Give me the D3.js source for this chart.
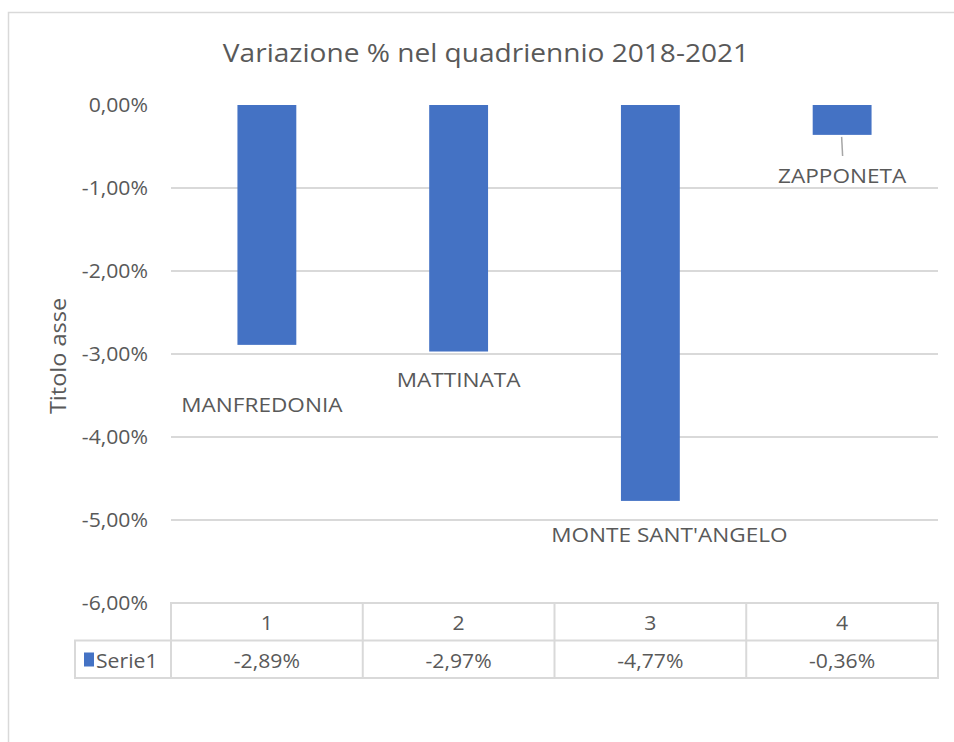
<!DOCTYPE html>
<html>
<head>
<meta charset="utf-8">
<script src="https://cdn.jsdelivr.net/npm/d3@7"></script>
<style>
  body { margin: 0; background: #fff; }
  text { font-family: "Open Sans", sans-serif; fill: #595959; }
</style>
</head>
<body>
<div id="chart"></div>
<script>
'use strict';
// data
const categories = ["1", "2", "3", "4"];
const values = [-2.89, -2.97, -4.77, -0.36];
const comuni = ["MANFREDONIA", "MATTINATA", "MONTE SANT'ANGELO", "ZAPPONETA"];
const yTicks = [0, -1, -2, -3, -4, -5, -6];
const seriesName = "Serie1";
const chartTitle = "Variazione % nel quadriennio 2018-2021";
const axisTitle = "Titolo asse";

// label placement (x offset in px, y in axis units)
const labelDx = [-5, 0, 19, 0];
const labelY = [-3.70, -3.40, -5.26, -0.94];

const W = 954, H = 742;
const plot = { left: 171, right: 938, top: 105, bottom: 603 };
const grey = "#d9d9d9";
const fmt = function(v) {
    return d3.format(".2f")(v).replace("−", "-").replace(".", ",") + "%";
};
// the original text is a bit wider than Open Sans, stretch it horizontally
function place(px, py, sx) {
    return "translate(" + px + "," + py + ") scale(" + sx + ",1)";
}

const svg = d3.select("#chart").append("svg")
    .attr("width", W)
    .attr("height", H);

// chart frame
svg.append("path")
    .attr("d", "M8.5," + H + "V12.5H" + W)
    .attr("fill", "none")
    .attr("stroke", grey)
    .attr("stroke-width", 1.5);

const x = d3.scaleBand().domain(categories).range([plot.left, plot.right]);
const y = d3.scaleLinear().domain([0, -6]).range([plot.top, plot.bottom]);
const barW = x.bandwidth() * 0.307;
const cx = function(c) { return x(c) + x.bandwidth() / 2; };

// title
svg.append("text")
    .attr("transform", place(486, 62, 1.08))
    .attr("text-anchor", "middle")
    .style("font-size", "26px")
    .text(chartTitle);

// gridlines (no line at zero, -6 is the table top)
svg.append("g").selectAll("line")
    .data(yTicks.filter(function(d) { return d < 0 && d > -6; }))
    .join("line")
    .attr("x1", plot.left)
    .attr("x2", plot.right)
    .attr("y1", function(d) { return y(d); })
    .attr("y2", function(d) { return y(d); })
    .attr("stroke", grey)
    .attr("stroke-width", 2);

// y axis labels
svg.append("g").selectAll("text")
    .data(yTicks)
    .join("text")
    .attr("transform", function(d) { return place(148, y(d) + 7, 1.06); })
    .attr("text-anchor", "end")
    .style("font-size", "20px")
    .text(fmt);

svg.append("text")
    .attr("transform", "translate(66,356) rotate(-90) scale(1.12,1)")
    .attr("text-anchor", "middle")
    .style("font-size", "21px")
    .text(axisTitle);

// bars
svg.append("g").selectAll("rect")
    .data(values)
    .join("rect")
    .attr("x", function(d, i) { return cx(categories[i]) - barW / 2; })
    .attr("y", y(0))
    .attr("width", barW)
    .attr("height", function(d) { return y(d) - y(0); })
    .attr("fill", "#4472c4");

// leader line for ZAPPONETA
svg.append("line")
    .attr("x1", cx("4") - 0.5)
    .attr("x2", cx("4") + 0.5)
    .attr("y1", y(values[3]) + 2)
    .attr("y2", y(labelY[3]) - 27)
    .attr("stroke", "#a6a6a6")
    .attr("stroke-width", 1.5);

// data labels
svg.append("g").selectAll("text")
    .data(comuni)
    .join("text")
    .attr("transform", function(d, i) {
        return place(cx(categories[i]) + labelDx[i], y(labelY[i]), 1.13);
    })
    .attr("text-anchor", "middle")
    .style("font-size", "20px")
    .text(function(d) { return d; });

// data table
const rowH = 37.5;
const table = svg.append("g")
    .attr("fill", "none")
    .attr("stroke", grey)
    .attr("stroke-width", 2);
table.append("rect")
    .attr("x", plot.left)
    .attr("y", plot.bottom)
    .attr("width", plot.right - plot.left)
    .attr("height", rowH * 2);
table.append("rect")
    .attr("x", 75)
    .attr("y", plot.bottom + rowH)
    .attr("width", plot.right - 75)
    .attr("height", rowH);
table.selectAll("line")
    .data(categories.slice(1))
    .join("line")
    .attr("x1", function(d) { return x(d); })
    .attr("x2", function(d) { return x(d); })
    .attr("y1", plot.bottom)
    .attr("y2", plot.bottom + rowH * 2);

svg.append("g").selectAll("text")
    .data(categories)
    .join("text")
    .attr("transform", function(d) { return place(cx(d), plot.bottom + 27, 1.06); })
    .attr("text-anchor", "middle")
    .style("font-size", "20px")
    .text(function(d) { return d; });

svg.append("g").selectAll("text")
    .data(values)
    .join("text")
    .attr("transform", function(d, i) { return place(cx(categories[i]), plot.bottom + rowH + 27, 1.06); })
    .attr("text-anchor", "middle")
    .style("font-size", "20px")
    .text(fmt);

// legend key inside the table
svg.append("rect")
    .attr("x", 84)
    .attr("y", plot.bottom + rowH + 12)
    .attr("width", 10)
    .attr("height", 14)
    .attr("fill", "#4472c4");
svg.append("text")
    .attr("transform", place(96, plot.bottom + rowH + 27, 1.06))
    .style("font-size", "20px")
    .text(seriesName);
</script>
</body>
</html>
